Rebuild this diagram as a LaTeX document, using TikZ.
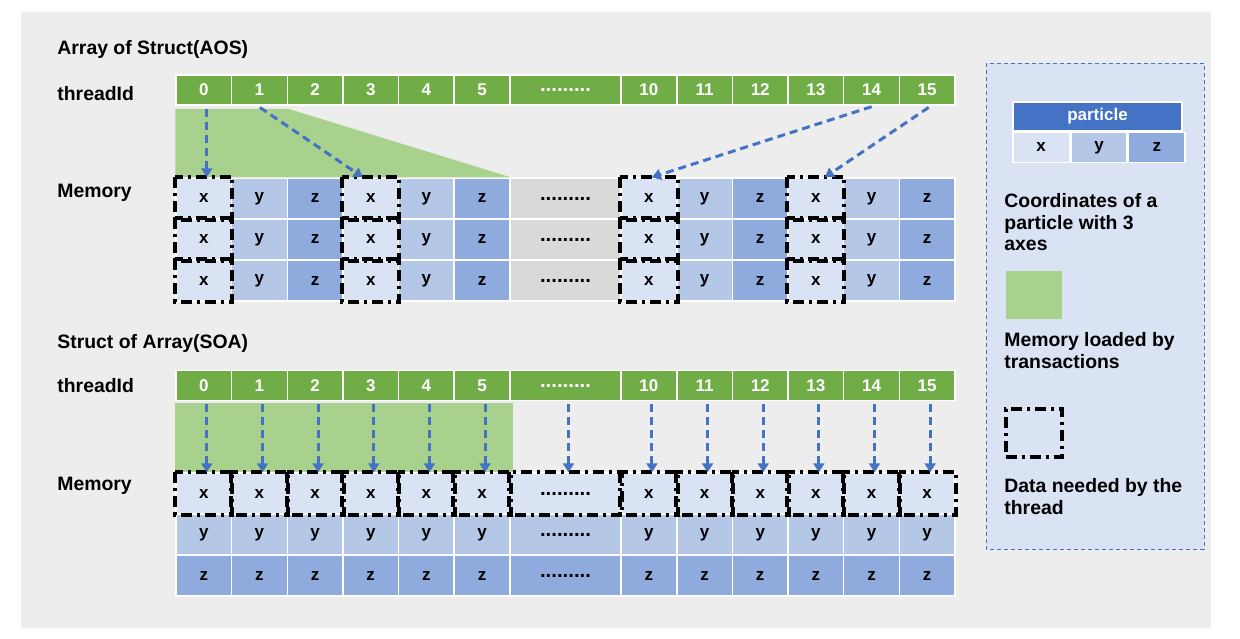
\documentclass[tikz,border=0pt]{standalone}
\usepackage{fontspec}
\setmainfont{Liberation Sans}
\usepackage{xcolor}
\usetikzlibrary{positioning,arrows.meta}

\definecolor{bggray}{HTML}{EEEDED}
\definecolor{tgreen}{HTML}{70AD47}
\definecolor{lgreen}{HTML}{A9D18E}
\definecolor{xfill}{HTML}{DAE3F3}
\definecolor{yfill}{HTML}{B4C7E7}
\definecolor{zfill}{HTML}{8FAADC}
\definecolor{dotgray}{HTML}{D9D9D9}
\definecolor{ablue}{HTML}{4472C4}

\newcommand{\gap}{{\fontsize{10.2}{10}\selectfont .........}}

\begin{document}
\begin{tikzpicture}[x=0.5pt, y=-0.5pt,
    cell/.style={rectangle, draw=white, line width=0.75pt, minimum width=27.82pt, inner sep=0pt, font=\bfseries\fontsize{8.5}{10}\selectfont},
    tid/.style={cell, fill=tgreen, text=white, minimum height=15pt},
    mem/.style={cell, minimum height=20.5pt},
    wide/.style={minimum width=55.64pt},
    needbox/.style={draw=black, line width=2pt, dash pattern=on 5.5pt off 2.5pt on 1.5pt off 2.5pt},
    feed/.style={draw=ablue, line width=1.5pt, dash pattern=on 4pt off 2.5pt, shorten <=1.5pt, -{Triangle[width=5.5pt,length=4.5pt]}},
    lbl/.style={anchor=base west, inner sep=0pt, font=\bfseries\fontsize{9.7}{10.9}\selectfont},
    note/.style={anchor=north west, inner sep=0pt, align=left, font=\bfseries\fontsize{9.7}{10.8}\selectfont}]
    \useasboundingbox (0,0) rectangle (1240,638);
    \fill[white] (0,0) rectangle (1240,638);
    \fill[bggray] (21,12) rectangle (1211,628);

    % ラベル
    \node[lbl] (aoslabel) at (57,54) {Array of Struct(AOS)};
    \node[lbl] (aostid) at (57,100) {threadId};
    \node[lbl] (aosmem) at (57,197) {Memory};
    \node[lbl] (soalabel) at (57,348) {Struct of Array(SOA)};
    \node[lbl] (soatid) at (57,392) {threadId};
    \node[lbl] (soamem) at (57,490) {Memory};

    % AOS
    \foreach \s/\t in {0/0,1/1,2/2,3/3,4/4,5/5,8/10,9/11,10/12,11/13,12/14,13/15}
        \node[tid] (at\t) at ({176+(\s+0.5)*55.64},90) {\t};
    \node[tid, wide] (atdots) at (565.5,90) {\gap};
    \foreach \r/\yy in {0/198.5,1/239.5,2/280.5} {
        \foreach \s/\c/\f in {0/x/xfill,1/y/yfill,2/z/zfill,3/x/xfill,4/y/yfill,5/z/zfill,8/x/xfill,9/y/yfill,10/z/zfill,11/x/xfill,12/y/yfill,13/z/zfill}
            \node[mem, fill=\f] (am\r-\s) at ({176+(\s+0.5)*55.64},\yy) {\c};
        \node[mem, wide, fill=dotgray] (am\r-dots) at (565.5,\yy) {\gap};
    }
    \fill[lgreen] ([yshift=-1.5pt]at0.south west) -- ([yshift=-1.5pt]at1.south east) -- (am0-5.north east) -- (am0-0.north west) -- cycle;
    \foreach \r in {0,1,2}
        \foreach \s in {0,3,8,11}
            \draw[needbox] (am\r-\s.north west) rectangle (am\r-\s.south east);
    \draw[feed] ([xshift=1.5pt]at0.south) -- ([xshift=1.5pt]am0-0.north);
    \draw[feed] ([xshift=-1pt]at1.south) -- ([xshift=-4pt]am0-3.north);
    \draw[feed] ([xshift=1.5pt]at14.south) -- ([xshift=1.5pt]am0-8.north);
    \draw[feed] ([xshift=2pt]at15.south) -- ([xshift=4.5pt]am0-11.north);

    % SOA
    \foreach \s/\t in {0/0,1/1,2/2,3/3,4/4,5/5,8/10,9/11,10/12,11/13,12/14,13/15}
        \node[tid] (bt\t) at ({176+(\s+0.5)*55.64},385.5) {\t};
    \node[tid, wide] (btdots) at (565.5,385.5) {\gap};
    \foreach \r/\yy/\c/\f in {0/493.5/x/xfill,1/534.5/y/yfill,2/575.5/z/zfill} {
        \foreach \s in {0,1,2,3,4,5,8,9,10,11,12,13}
            \node[mem, fill=\f] (bm\r-\s) at ({176+(\s+0.5)*55.64},\yy) {\c};
        \node[mem, wide, fill=\f] (bm\r-dots) at (565.5,\yy) {\gap};
    }
    \fill[lgreen] ([yshift=-1pt]bt0.south west) rectangle ([xshift=1pt]bm0-5.north east);
    \foreach \s in {0,1,2,3,4,5,dots,8,9,10,11,12,13}
        \draw[needbox] (bm0-\s.north west) rectangle (bm0-\s.south east);
    \foreach \s/\t in {0/0,1/1,2/2,3/3,4/4,5/5,dots/dots,8/10,9/11,10/12,11/13,12/14,13/15}
        \draw[feed] ([xshift=1.5pt]bt\t.south) -- ([xshift=1.5pt]bm0-\s.north);

    % 凡例
    \draw[draw=ablue, fill=xfill, line width=0.5pt, dash pattern=on 2pt off 1.5pt] (986,63) rectangle (1204,549);
    \node[cell, fill=ablue, text=white, minimum width=84.5pt, minimum height=14.5pt] (phead) at (1097.5,116.5) {particle};
    \node[cell, fill=xfill, minimum width=28.17pt, minimum height=15pt, below=0pt of phead.south west, anchor=north west] (px) {x};
    \node[cell, fill=yfill, minimum width=28.17pt, minimum height=15pt, right=0pt of px] (py) {y};
    \node[cell, fill=zfill, minimum width=28.17pt, minimum height=15pt, right=0pt of py] (pz) {z};
    \node[note] (notepart) at (1004,193) {Coordinates of a\\particle with 3\\axes};
    \node[fill=lgreen, minimum width=28pt, minimum height=24pt, inner sep=0pt] (keyload) at (1034,295) {};
    \node[note] (noteload) at (1004,332) {Memory loaded by\\transactions};
    \node[needbox, minimum width=28pt, minimum height=24pt, inner sep=0pt] (keyneed) at (1034,433) {};
    \node[note] (noteneed) at (1004,478) {Data needed by the\\thread};
\end{tikzpicture}
\end{document}
